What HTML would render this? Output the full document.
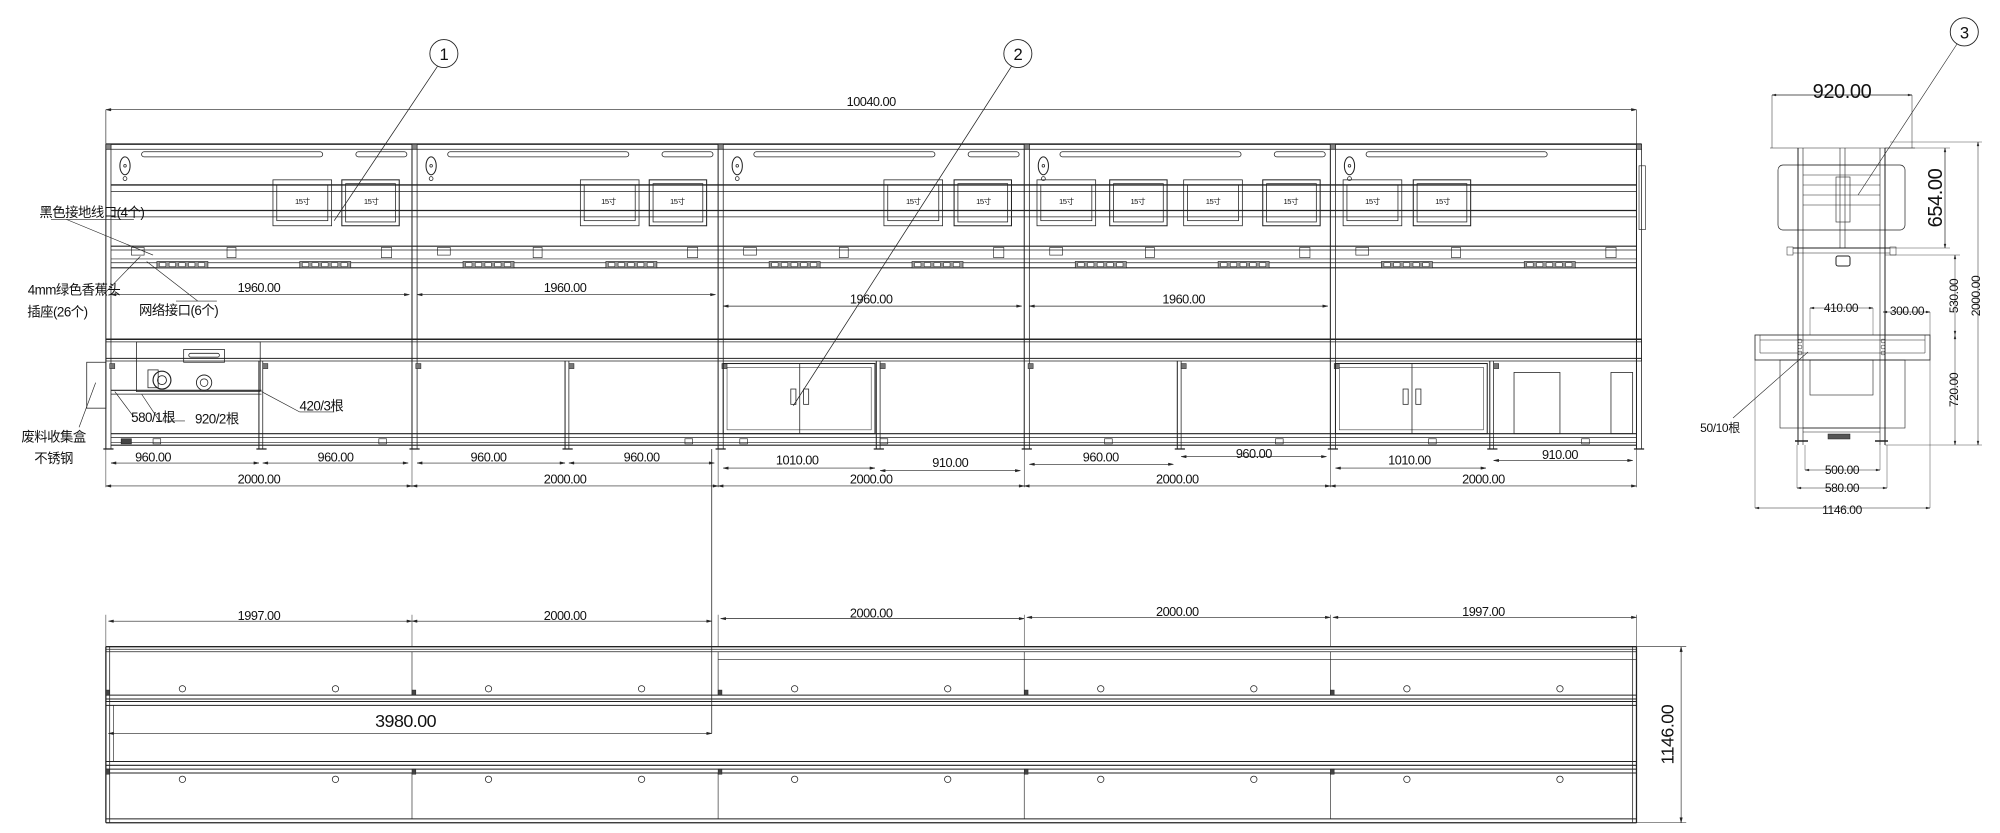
<!DOCTYPE html>
<html><head><meta charset="utf-8">
<style>
html,body{margin:0;padding:0;background:#fff;width:2000px;height:833px;overflow:hidden}
svg{display:block}
text{font-family:"Liberation Sans Narrow","Liberation Sans","Noto Sans CJK SC",sans-serif;fill:#111;letter-spacing:-0.4px}
</style></head>
<body>
<svg id="s" width="2000" height="833" viewBox="0 0 2000 833" xmlns="http://www.w3.org/2000/svg">
<rect width="2000" height="833" fill="#fff"/>
<g id="m" transform="scale(1.27551)" stroke="#222" stroke-width="0.6" fill="none">
</g>
<g id="sv" stroke="#222" stroke-width="0.8" fill="none"></g>
<g transform="scale(1.27551)" font-size="10" text-anchor="middle">
<text x="683" y="83">10040.00</text>
<text x="203" y="229">1960.00</text>
<text x="443" y="229">1960.00</text>
<text x="683" y="238">1960.00</text>
<text x="928" y="238">1960.00</text>
<text x="120" y="362">960.00</text>
<text x="263" y="362">960.00</text>
<text x="383" y="362">960.00</text>
<text x="503" y="362">960.00</text>
<text x="625" y="364">1010.00</text>
<text x="745" y="366">910.00</text>
<text x="863" y="362">960.00</text>
<text x="983" y="359">960.00</text>
<text x="1105" y="364">1010.00</text>
<text x="1223" y="360">910.00</text>
<text x="203" y="379">2000.00</text>
<text x="443" y="379">2000.00</text>
<text x="683" y="379">2000.00</text>
<text x="923" y="379">2000.00</text>
<text x="1163" y="379">2000.00</text>
<text x="203" y="486">1997.00</text>
<text x="443" y="486">2000.00</text>
<text x="683" y="484">2000.00</text>
<text x="923" y="483">2000.00</text>
<text x="1163" y="483">1997.00</text>
<text x="318" y="570" font-size="14">3980.00</text>
<text transform="translate(1312,576) rotate(-90)" font-size="14">1146.00</text>
<text x="348" y="47" font-size="13">1</text>
<text x="798" y="47" font-size="13">2</text>
<text x="1540" y="30" font-size="13">3</text>
<text x="237" y="160" font-size="6">15寸</text>
<text x="291" y="160" font-size="6">15寸</text>
<text x="477" y="160" font-size="6">15寸</text>
<text x="531" y="160" font-size="6">15寸</text>
<text x="716" y="160" font-size="6">15寸</text>
<text x="771" y="160" font-size="6">15寸</text>
<text x="836" y="160" font-size="6">15寸</text>
<text x="892" y="160" font-size="6">15寸</text>
<text x="951" y="160" font-size="6">15寸</text>
<text x="1012" y="160" font-size="6">15寸</text>
<text x="1076" y="160" font-size="6">15寸</text>
<text x="1131" y="160" font-size="6">15寸</text>
<text x="72" y="170" font-size="10.5">黑色接地线口(4个)</text>
<text x="58" y="231" font-size="10.5">4mm绿色香蕉头</text>
<text x="45" y="248" font-size="10.5">插座(26个)</text>
<text x="140" y="247" font-size="10.5">网络接口(6个)</text>
<text x="252" y="322" font-size="10.5">420/3根</text>
<text x="120" y="331" font-size="10.5">580/1根</text>
<text x="170" y="332" font-size="10.5">920/2根</text>
<text x="42" y="346" font-size="10.5">废料收集盒</text>
<text x="42" y="363" font-size="10.5">不锈钢</text>
</g>
<g font-size="12" text-anchor="middle">
<text x="1842" y="98" font-size="20">920.00</text>
<text transform="translate(1942,198) rotate(-90)" font-size="20">654.00</text>
<text transform="translate(1958,296) rotate(-90)">530.00</text>
<text transform="translate(1980,296) rotate(-90)">2000.00</text>
<text transform="translate(1958,390) rotate(-90)">720.00</text>
<text x="1841" y="312">410.00</text>
<text x="1907" y="315">300.00</text>
<text x="1842" y="474">500.00</text>
<text x="1842" y="492">580.00</text>
<text x="1842" y="514">1146.00</text>
<text x="1720" y="432">50/10根</text>
</g>
</svg>
<script>
var NS="http://www.w3.org/2000/svg";
var m=document.getElementById('m'),sv=document.getElementById('sv');
function el(g,t,a){var e=document.createElementNS(NS,t);for(var k in a)e.setAttribute(k,a[k]);g.appendChild(e);return e;}
function L(x1,y1,x2,y2,w,g){el(g||m,'line',{x1:x1,y1:y1,x2:x2,y2:y2,'stroke-width':w||0.6});}
function R(x,y,w,h,sw,g,f){el(g||m,'rect',{x:x,y:y,width:w,height:h,'stroke-width':sw||0.6,fill:f||'none'});}
function C(x,y,r,g,sw){el(g||m,'circle',{cx:x,cy:y,r:r,'stroke-width':sw||0.6});}
function dimH(x1,x2,y,g,w){L(x1,y,x2,y,w||0.5,g);var q=g||m;el(q,'path',{d:'M'+x1+' '+y+'l4 -1v2z M'+x2+' '+y+'l-4 -1v2z',fill:'#222','stroke-width':0.3});}
function dimV(x,y1,y2,g,w){L(x,y1,x,y2,w||0.5,g);var q=g||m;el(q,'path',{d:'M'+x+' '+y1+'l-1 4h2z M'+x+' '+y2+'l-1 -4h2z',fill:'#222','stroke-width':0.3});}
var X=[83,323,563,803,1043];
dimH(83,1283,86);L(83,86,83,113,0.5);L(1283,86,1283,113,0.5);
L(83,113,1287,113,1.2);L(83,117,1287,117,0.6);
[83,323,563,803,1043,1283].forEach(function(x){L(x,113,x,352,0.8);L(x+4,113,x+4,352,0.6);R(x,113,4,4,0.5,m,'#888');});
[145,150,165,170].forEach(function(y,i){L(87,y,1283,y,i%2?0.6:1);});
[193,196,203,206,210].forEach(function(y,i){L(87,y,1283,y,i==0||i==4?0.9:0.5);});
X.forEach(function(x,i){
 el(m,'rect',{x:x+28,y:119,width:142,height:4,rx:2,'stroke-width':0.6});
 if(i<4) el(m,'rect',{x:x+196,y:119,width:40,height:4,rx:2,'stroke-width':0.6});
 el(m,'ellipse',{cx:x+15,cy:130,rx:4,ry:7,'stroke-width':0.8});C(x+15,130,1,m,0.6);C(x+15,140,1.5,m,0.6);
 R(x+20,194,10,6,0.5);R(x+95,194,7,8,0.5);R(x+216,194,8,8,0.5);
 [x+40,x+152].forEach(function(s){R(s,205,40,5,0.5,m,'#999');for(var k=0;k<5;k++)R(s+2+k*7.6,206,5,3,0.4,m,'#fff');});
});
[[214,268],[455,509],[693,748],[813,870,928,990],[1053,1108]].forEach(function(a){a.forEach(function(x,j){
 if(j%2==0){R(x,141,46,36,0.6);R(x+3,145,40,28,0.6);}else{R(x,141,45,36,0.8);R(x+3,144,39,30,0.6);}
});});
dimH(87,321,231);dimH(327,561,231);dimH(567,801,240);dimH(807,1041,240);
R(1285,130,5,50,0.5);
L(83,266,1287,266,1.2);L(83,268,1287,268,0.6);L(83,281,1287,281,0.8);L(83,283,1287,283,0.6);L(83,266,83,283);L(1287,266,1287,283);
[203,443,687,923,1168].forEach(function(x){L(x,283,x,352,0.8);L(x+3,283,x+3,352,0.6);});
[340,343,347,349].forEach(function(y,i){L(87,y,1283,y,i==0||i==3?0.9:0.5);});
[86,206,326,446,566,690,806,926,1046,1171].forEach(function(x){R(x,285,4,4,0.4,m,'#777');});
[120,297,537,580,690,866,1000,1120,1240].forEach(function(x){R(x,344,6,4,0.5);});
R(95,344,8,4,0.5,m,'#444');
[83,203,323,443,563,687,803,923,1043,1168,1283].forEach(function(x){L(x-2,352,x+6,352,1);});
[567,1047].forEach(function(x){R(x,285,119,55,0.8);R(x+3,288,113,49,0.4);L(x+60,285,x+60,340,0.6);R(x+53,305,4,12,0.6);R(x+63,305,4,12,0.6);});
R(1187,292,36,48,0.6);R(1263,292,17,48,0.6);
R(107,268,97,39,0.6);R(144,274,32,10,0.6);el(m,'rect',{x:148,y:277,width:24,height:3,rx:1.5,'stroke-width':0.6});
C(127,298,7,m,0.9);C(127,298,3.5,m,0.7);R(116,290,8,14,0.6);C(160,300,6,m,0.7);C(160,300,3,m,0.6);
L(87,306,205,306,0.8);L(87,309,205,309,0.6);
R(68,284,15,36,0.6);
dimH(87,203,363);dimH(206,320,363);dimH(327,443,363);dimH(446,560,363);dimH(567,686,367);dimH(690,800,369);
dimH(807,920,364);dimH(926,1040,358);dimH(1047,1165,367);dimH(1171,1280,361);
[83,323,563,803,1043,1283].forEach(function(x){L(x,352,x,382,0.4);});
dimH(83,323,381);dimH(323,563,381);dimH(563,803,381);dimH(803,1043,381);dimH(1043,1283,381);
C(348,42,11,m,0.7);C(798,42,11,m,0.7);C(1540,25,11,m,0.7);
L(343,52,262,173,0.6);L(793,52,622,318,0.6);
L(40,172,105,172,0.5);L(52,172,120,200,0.5);L(80,232,110,201,0.5);L(115,205,155,236,0.5);L(138,236,170,236,0.5);
L(205,307,235,323,0.5);L(235,323,262,323,0.5);L(90,307,105,327,0.5);L(111,309,125,330,0.5);L(125,330,145,330,0.5);
L(75,300,62,335,0.5);
L(558,352,558,575,0.6);dimH(85,558,575);
[507,509,511].forEach(function(y){L(83,y,1283,y,y==507?1:0.6);});
L(563,517,1283,517,0.5);
[545,548,550,553].forEach(function(y){L(83,y,1283,y,0.8);});
[597,600,603,606].forEach(function(y){L(83,y,1283,y,0.8);});
L(83,642,1283,642,0.8);L(83,645,1283,645,1);
L(83,507,83,645,1);L(86,507,86,645,0.6);L(1283,507,1283,645,1);L(1280,507,1280,645,0.6);
L(89,553,89,597,0.5);
[323,563,803,1043].forEach(function(x){L(x,511,x,545,0.5);L(x,606,x,642,0.5);});
X.forEach(function(x){C(x+60,540,2.5);C(x+180,540,2.5);C(x+60,611,2.5);C(x+180,611,2.5);R(x,541,3,4,0.4,m,'#444');R(x,603,3,4,0.4,m,'#444');});
[83,323,563,803,1043,1283].forEach(function(x){L(x,482,x,507,0.4);});
dimH(85,323,487);dimH(323,558,487);dimH(565,803,485);dimH(805,1043,484);dimH(1045,1283,484);
L(1283,507,1322,507,0.4);L(1283,645,1322,645,0.4);dimV(1318,507,645);
var g=sv;
dimH(1772,1912,95,g,0.7);L(1772,95,1772,148,0.5,g);L(1912,95,1912,148,0.5,g);
L(1770,148,1915,148,0.6,g);
L(1798,148,1798,445,1,g);L(1803,148,1803,445,0.6,g);L(1880,148,1880,445,0.6,g);L(1885,148,1885,445,1,g);
L(1840,148,1840,248,0.6,g);L(1845,148,1845,248,0.6,g);
el(g,'rect',{x:1778,y:165,width:127,height:65,rx:5,'stroke-width':0.7});
[165,175,185,195,205].forEach(function(y){L(1803,y,1880,y,0.5,g);});
R(1836,177,14,45,0.6,g);
L(1793,248,1890,248,1,g);L(1793,253,1890,253,0.6,g);R(1787,247,6,8,0.5,g);R(1890,247,6,8,0.5,g);
el(g,'rect',{x:1836,y:256,width:14,height:10,rx:2,'stroke-width':1});
L(1885,148,1950,148,0.4,g);L(1885,248,1950,248,0.4,g);dimV(1945,148,248,g,0.7);
L(1885,255,1960,255,0.4,g);dimV(1955,255,335,g);dimV(1955,335,445,g);
L(1890,142,1982,142,0.4,g);L(1885,445,1982,445,0.4,g);dimV(1978,142,445,g);
dimH(1810,1873,308,g);L(1810,308,1810,335,0.4,g);L(1873,308,1873,335,0.4,g);
dimH(1883,1930,312,g);L(1930,312,1930,335,0.4,g);
R(1755,335,175,25,0.8,g);L(1760,340,1925,340,0.5,g);L(1760,353,1925,353,0.5,g);L(1760,335,1760,353,0.5,g);L(1925,335,1925,353,0.5,g);
R(1780,360,125,68,0.6,g);R(1810,360,63,35,0.6,g);
L(1803,428,1880,428,0.8,g);L(1803,432,1880,432,0.6,g);
R(1828,434,22,5,0.5,g,'#555');
L(1795,441,1808,441,1.5,g);L(1875,441,1888,441,1.5,g);
[1800,1883].forEach(function(x){C(x,341,2,g,0.5);C(x,347,2,g,0.5);C(x,353,2,g,0.5);});
dimH(1805,1880,470,g);L(1805,445,1805,470,0.4,g);L(1880,445,1880,470,0.4,g);
dimH(1797,1887,488,g);L(1797,445,1797,488,0.4,g);L(1887,445,1887,488,0.4,g);
dimH(1755,1930,508,g);L(1755,360,1755,508,0.4,g);L(1930,360,1930,508,0.4,g);
L(1733,418,1808,352,0.6,g);
L(1957,44,1858,195,0.6,g);
</script>
</body></html>
